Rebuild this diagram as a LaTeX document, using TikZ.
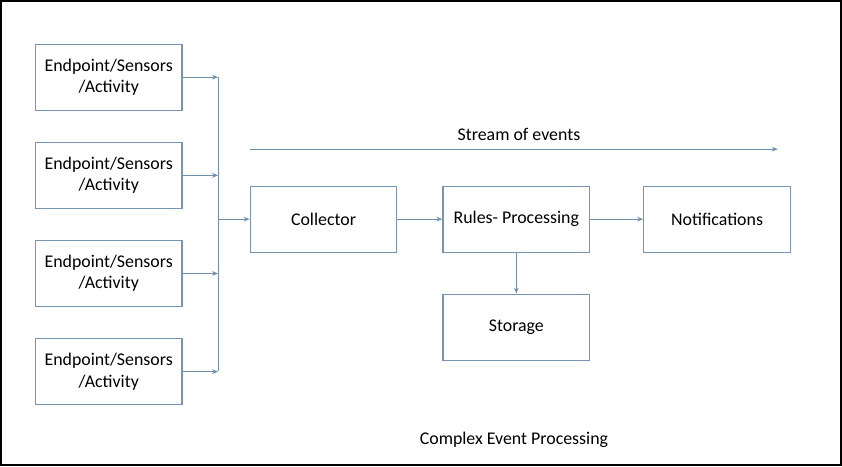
\documentclass[tikz,border=0pt]{standalone}
\usepackage{fontspec}
\setmainfont{Carlito}
\usepackage{xcolor}
\usetikzlibrary{arrows.meta,positioning,calc}
\definecolor{steel}{RGB}{112,143,172}
\definecolor{boxline}{RGB}{120,150,180}

\begin{document}
\begin{tikzpicture}[
    x=0.75pt, y=-0.75pt,
    node distance=23.25pt and 33.75pt,
    box/.style={rectangle, draw=boxline, line width=0.9pt, fill=white,
                minimum width=110pt, minimum height=49.5pt, align=center,
                font=\fontsize{13.4}{16}\selectfont, inner sep=0pt},
    arrow/.style={-{Stealth[length=4.5pt,width=3.5pt]}, steel, line width=0.8pt},
    bus/.style={steel, line width=0.8pt},
  ]
    % frame
    \draw[black, line width=1.5pt] (0.75,0.75) rectangle (841.25,465.25);

    % sources
    \node[box] (src1) at (108.5,77) {Endpoint/Sensors\\/Activity};
    \node[box, below=of src1] (src2) {Endpoint/Sensors\\/Activity};
    \node[box, below=of src2] (src3) {Endpoint/Sensors\\/Activity};
    \node[box, below=of src3] (src4) {Endpoint/Sensors\\/Activity};

    % processing chain
    \node[box] (coll) at (323.5,219) {Collector};
    \node[box, right=of coll] (rules) {Rules- Processing};
    \node[box, right=39.75pt of rules] (notif) {Notifications};
    \node[box, below=30.75pt of rules] (store) {Storage};

    % bus
    \coordinate (bustop) at (218,77);
    \coordinate (busbot) at (218,371);
    \draw[bus] (bustop) -- (busbot);
    \draw[arrow] (src1.east) -- (src1.east -| bustop);
    \draw[arrow] (src2.east) -- (src2.east -| bustop);
    \draw[arrow] (src3.east) -- (src3.east -| bustop);
    \draw[arrow] (src4.east) -- (src4.east -| bustop);
    \draw[arrow] (coll.west -| bustop) -- (coll);

    \draw[arrow] (coll) -- (rules);
    \draw[arrow] (rules) -- (notif);
    \draw[arrow] (rules) -- (store);

    % stream of events
    \coordinate (streamA) at (250,149);
    \coordinate (streamB) at (778,149);
    \draw[arrow] (streamA) -- (streamB);
    \node[font=\fontsize{13.4}{16}\selectfont] (streamlbl) at (519,134) {Stream of events};

    \node[font=\fontsize{13.4}{16}\selectfont] (title) at (514,440) {Complex Event Processing};
  \end{tikzpicture}
\end{document}
